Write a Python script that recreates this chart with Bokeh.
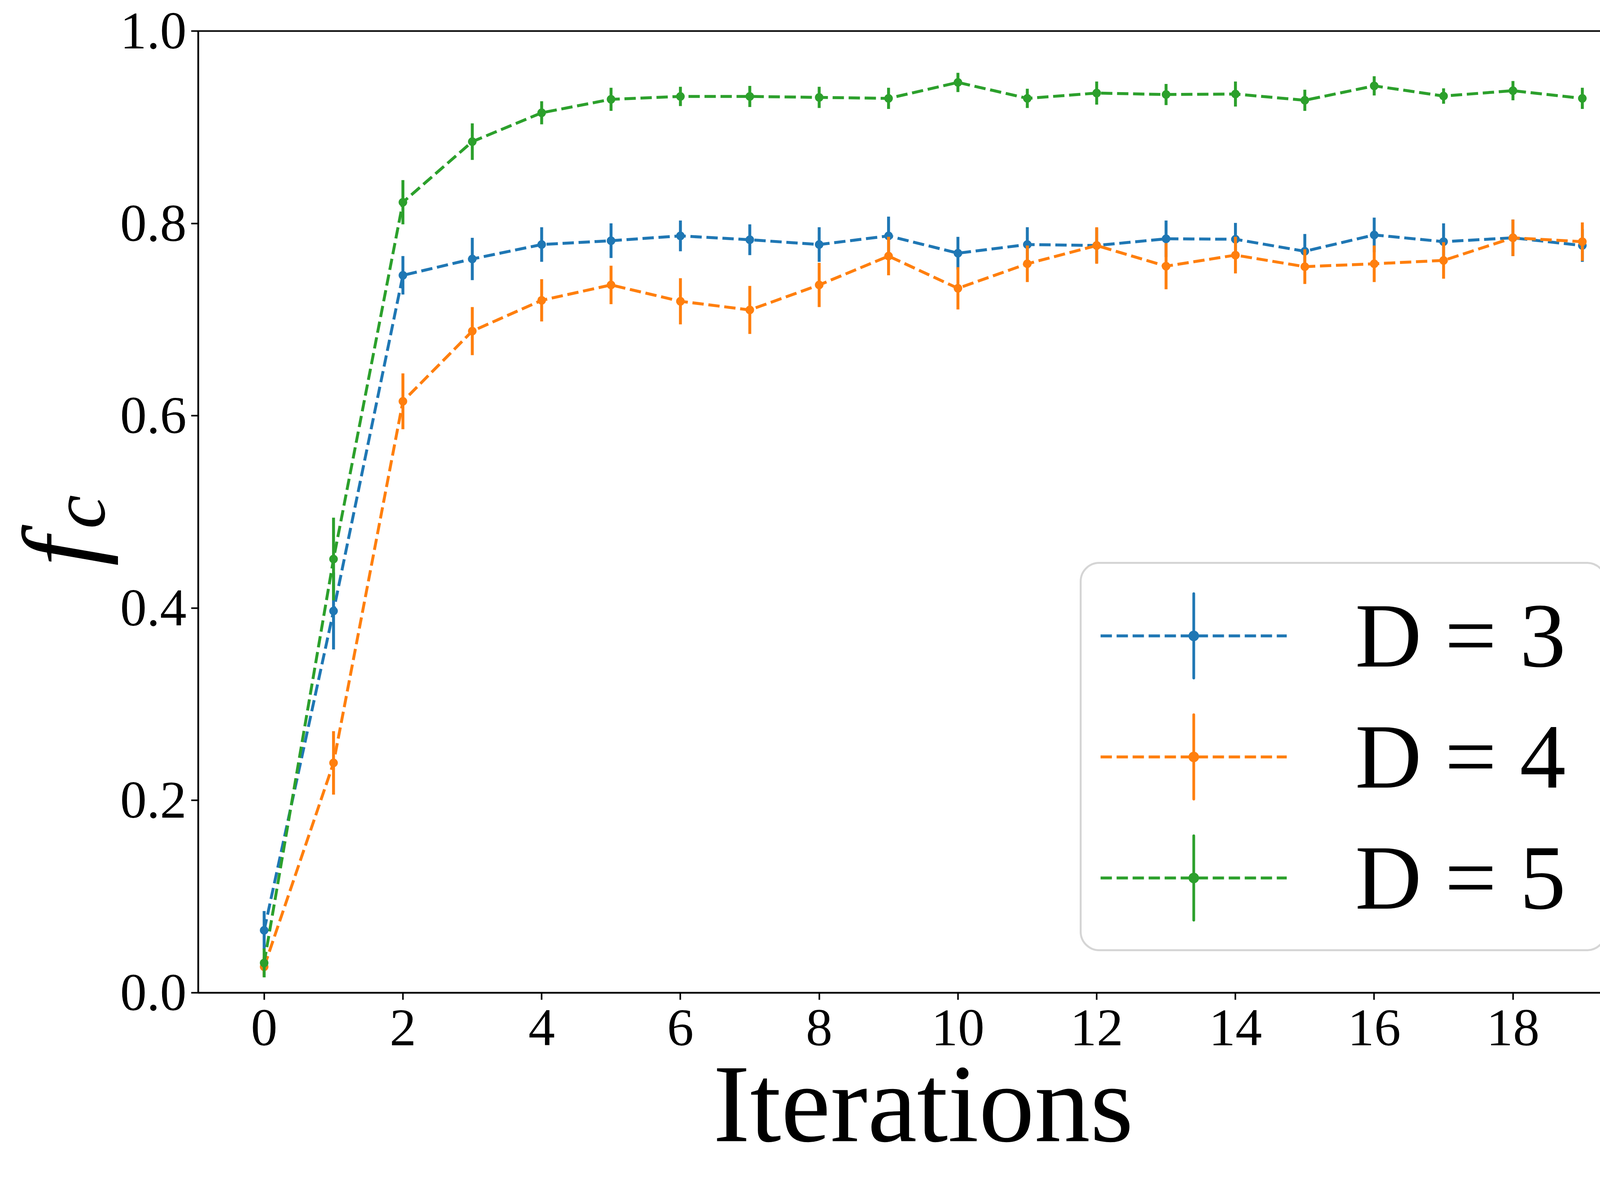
from bokeh.plotting import figure
from bokeh.models import (Legend, LegendItem, ColumnDataSource, FixedTicker,
                          Range1d, NumeralTickFormatter, LinearAxis)
from bokeh.embed import file_html
from bokeh.resources import INLINE

# ---------------- data ----------------
iterations = list(range(20))
series_labels = ["D = 3", "D = 4", "D = 5"]
series_colors = ["#1f77b4", "#ff7f0e", "#2ca02c"]

d3_mean = [0.065, 0.397, 0.746, 0.763, 0.778, 0.782, 0.787, 0.783, 0.778, 0.787,
           0.769, 0.778, 0.777, 0.784, 0.7835, 0.771, 0.788, 0.781, 0.785, 0.777]
d3_err = [0.020, 0.040, 0.020, 0.022, 0.018, 0.018, 0.016, 0.016, 0.018, 0.020,
          0.017, 0.018, 0.018, 0.019, 0.017, 0.018, 0.018, 0.019, 0.019, 0.017]

d4_mean = [0.027, 0.239, 0.615, 0.688, 0.720, 0.736, 0.719, 0.710, 0.736, 0.766,
           0.7325, 0.758, 0.777, 0.7555, 0.767, 0.755, 0.758, 0.7615, 0.785, 0.781]
d4_err = [0.010, 0.033, 0.029, 0.025, 0.022, 0.020, 0.024, 0.025, 0.023, 0.020,
          0.022, 0.019, 0.019, 0.024, 0.019, 0.018, 0.019, 0.019, 0.019, 0.020]

d5_mean = [0.031, 0.451, 0.822, 0.885, 0.915, 0.929, 0.932, 0.932, 0.931, 0.930,
           0.9466, 0.930, 0.9355, 0.934, 0.9345, 0.928, 0.943, 0.9324, 0.938, 0.930]
d5_err = [0.015, 0.043, 0.023, 0.019, 0.012, 0.012, 0.010, 0.011, 0.011, 0.011,
          0.010, 0.010, 0.012, 0.011, 0.013, 0.011, 0.010, 0.008, 0.010, 0.011]

x_ticks = [0, 2, 4, 6, 8, 10, 12, 14, 16, 18]
y_ticks = [0.0, 0.2, 0.4, 0.6, 0.8, 1.0]
x_title = "Iterations"
y_title_main = "f"        # y title is f with subscript c
y_title_sub = "c"

means = [d3_mean, d4_mean, d5_mean]
errs = [d3_err, d4_err, d5_err]

# ---------------- figure ----------------
W, H = 4250, 3000
FONT = "Liberation Serif"
NBSP = "\u00a0"

p = figure(width=W, height=H, output_backend="svg", toolbar_location=None,
           x_range=Range1d(-0.95, 19.95), y_range=Range1d(0.0, 1.0),
           min_border_left=504, min_border_right=31, min_border_top=79,
           min_border_bottom=458)

p.background_fill_color = "white"
p.border_fill_color = "white"
p.outline_line_color = "black"
p.outline_line_width = 4
p.outline_line_alpha = 1.0
p.xgrid.grid_line_color = None
p.ygrid.grid_line_color = None

p.xaxis.ticker = FixedTicker(ticks=x_ticks)
p.yaxis.ticker = FixedTicker(ticks=y_ticks)
p.yaxis.formatter = NumeralTickFormatter(format="0.0")

for ax in (p.xaxis, p.yaxis):
    ax.axis_line_color = "black"
    ax.axis_line_width = 4
    ax.major_tick_line_color = "black"
    ax.major_tick_line_width = 4
    ax.major_tick_out = 18
    ax.major_tick_in = 0
    ax.minor_tick_line_color = None
    ax.major_label_text_font = FONT
    ax.major_label_text_font_size = "136px"
    ax.major_label_text_color = "black"

p.xaxis.major_label_standoff = 27
p.xaxis.axis_label = x_title
p.xaxis.axis_label_text_font = FONT
p.xaxis.axis_label_text_font_size = "285px"
p.xaxis.axis_label_text_font_style = "normal"
p.xaxis.axis_label_text_color = "black"
p.xaxis.axis_label_standoff = -11

# inner y axis carries the subscript "c"
p.yaxis.major_label_standoff = 12
p.yaxis.axis_label = y_title_sub
p.yaxis.axis_label_text_font = FONT
p.yaxis.axis_label_text_font_size = "196px"
p.yaxis.axis_label_text_font_style = "italic"
p.yaxis.axis_label_text_color = "black"
p.yaxis.axis_label_standoff = -4

# outer, tick-less y axis carries the main "f"
outer = LinearAxis(ticker=FixedTicker(ticks=[]), axis_line_color=None,
                   major_tick_out=0, major_tick_in=0, minor_tick_out=0,
                   minor_tick_in=0, major_tick_line_color=None,
                   minor_tick_line_color=None, major_label_standoff=0,
                   major_label_text_font_size="1px",
                   axis_label=y_title_main + NBSP * 3, axis_label_text_font=FONT,
                   axis_label_text_font_size="270px",
                   axis_label_text_font_style="italic",
                   axis_label_text_color="black", axis_label_standoff=-214)
p.add_layout(outer, "left")

nan = float("nan")
items = []
for lab, col, m, e in zip(series_labels, series_colors, means, errs):
    src = ColumnDataSource(dict(x=iterations, y=m,
                                lo=[a - b for a, b in zip(m, e)],
                                hi=[a + b for a, b in zip(m, e)]))
    line_r = p.line("x", "y", source=src, line_color=col, line_width=7.5,
                    line_dash="29 12")
    p.segment(x0="x", y0="lo", x1="x", y1="hi", source=src, line_color=col,
              line_width=7.5)
    p.scatter("x", "y", source=src, marker="circle", size=22, fill_color=col,
              line_color=col, line_width=0)
    # legend-only glyphs (vertical error bar and small dot)
    leg_src = ColumnDataSource(dict(x=[nan], y=[nan]))
    bar_r = p.ellipse("x", "y", source=leg_src, width=0.01, height=216,
                      width_units="screen", height_units="screen",
                      fill_alpha=0.0, line_color=col, line_width=7)
    dot_r = p.scatter("x", "y", source=leg_src, marker="dot", size=40,
                      line_color=col, fill_color=col)
    items.append(LegendItem(label=lab, renderers=[line_r, bar_r, dot_r]))

legend = Legend(items=items, location="bottom_right", margin=106, padding=48,
                spacing=39, glyph_width=477, glyph_height=270, label_standoff=175,
                label_width=591, label_text_font=FONT, label_text_font_size="236px",
                label_text_color="black", border_line_color="#d5d5d5",
                border_line_width=5, border_line_alpha=1.0,
                background_fill_color="white", background_fill_alpha=0.8)
if "border_radius" in Legend.properties():
    legend.border_radius = 50
p.add_layout(legend)

with open("out.html", "w") as f:
    f.write(file_html(p, INLINE))
